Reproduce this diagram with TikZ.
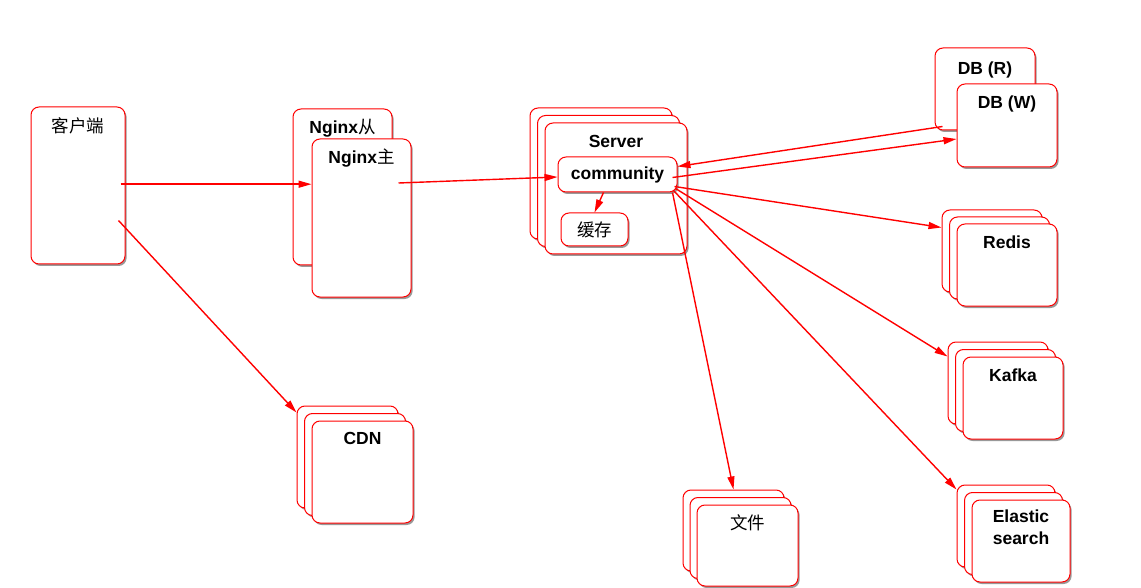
\documentclass[tikz,border=0pt]{standalone}
\usepackage{fontspec}
\setmainfont{Liberation Sans}
\newfontfamily\cjk{Noto Sans CJK SC}
\usetikzlibrary{arrows.meta,shadows,calc}
\begin{document}
\begin{tikzpicture}[x=1pt,y=-1pt,
  box/.style={draw=red, line width=1pt, rounded corners=8pt, fill=white, inner sep=0pt,
    drop shadow={shadow xshift=1.6pt, shadow yshift=-2pt, fill=black, opacity=0.4}},
  sz/.style 2 args={minimum width=#1pt, minimum height=#2pt},
  lbl/.style={font=\fontsize{17.5}{22}\selectfont\bfseries, inner sep=0pt, align=center},
  cj/.style={font=\fontsize{17.5}{20}\selectfont\cjk, inner sep=0pt},
  arr/.style={draw=red, line width=1.4pt, -{Triangle[length=13pt,width=7pt]}}]
\useasboundingbox (0,0) rectangle (1141,588);

% client
\node[box, sz={94}{157}] (client) at (78,185.5) {};
\node[cj] (client-t) at ([yshift=-19pt]client.north) {客户端};

% nginx
\node[box, sz={99}{156}] (nginxs) at (342.5,187) {};
\node[lbl] (nginxs-t) at ([yshift=-20pt]nginxs.north) {Nginx{\cjk\mdseries 从}};
\node[box, sz={99}{158}] (nginxm) at (361.5,218) {};
\node[lbl] (nginxm-t) at ([yshift=-20pt]nginxm.north) {Nginx{\cjk\mdseries 主}};

% server stack
\node[box, sz={142}{131}] (server1) at (601,173.5) {};
\node[box, sz={142}{131}] (server2) at (608.5,181) {};
\node[box, sz={142}{131}] (server) at (616,188.5) {};
\node[lbl] (server-t) at ([yshift=-19pt]server.north) {Server};
\node[box, sz={119}{35}, lbl] (community) at (617.5,174.5) {community};
\node[box, sz={67}{33}, cj] (cache) at (594.5,229.5) {缓存};

% DB
\node[box, sz={100}{82}] (dbr) at (985,89) {};
\node[lbl] (dbr-t) at ([yshift=-22pt]dbr.north) {DB (R)};
\node[box, sz={100}{83}] (dbw) at (1007,125.5) {};
\node[lbl] (dbw-t) at ([yshift=-20pt]dbw.north) {DB (W)};

% Redis
\node[box, sz={100}{82}] (redis1) at (992,251) {};
\node[box, sz={100}{82}] (redis2) at (999.5,258) {};
\node[box, sz={100}{82}] (redis) at (1007,265) {};
\node[lbl] (redis-t) at ([yshift=-19pt]redis.north) {Redis};

% Kafka
\node[box, sz={100}{82}] (kafka1) at (998,383) {};
\node[box, sz={100}{82}] (kafka2) at (1005.5,390.5) {};
\node[box, sz={100}{82}] (kafka) at (1013,398) {};
\node[lbl] (kafka-t) at ([yshift=-19pt]kafka.north) {Kafka};

% Elastic
\node[box, sz={98}{82}] (es1) at (1006,526) {};
\node[box, sz={98}{82}] (es2) at (1013.5,533.5) {};
\node[box, sz={98}{82}] (es) at (1021,541) {};
\node[lbl, anchor=north] (es-t) at ([yshift=-10pt]es.north) {Elastic\\search};

% files
\node[box, sz={101}{81}] (file1) at (733.5,530.5) {};
\node[box, sz={101}{81}] (file2) at (740.5,538) {};
\node[box, sz={101}{81}] (file) at (747.5,545.5) {};
\node[cj] (file-t) at ([yshift=-18pt]file.north) {文件};

% CDN
\node[box, sz={101}{102}] (cdn1) at (347.5,457) {};
\node[box, sz={101}{102}] (cdn2) at (355,464.5) {};
\node[box, sz={101}{102}] (cdn) at (362.5,472) {};
\node[lbl] (cdn-t) at ([yshift=-18pt]cdn.north) {CDN};

% connectors
\draw[arr] ([xshift=-5pt,yshift=1.3pt]client.east) -- ([yshift=1.3pt]client.east -| nginxm.west);
\draw[arr] ([xshift=-7pt,yshift=-35pt]client.east) -- ([yshift=-7pt]cdn1.north west);
\draw[arr] ([xshift=-13pt,yshift=35pt]nginxm.east) -- ([yshift=-2.5pt]community.west);
\draw[arr] ([xshift=-14pt]community.south) -- (cache.north);
\draw[arr] ([xshift=8pt,yshift=4pt]dbr.south west) -- ([yshift=8pt]community.east);
\draw[arr] ([xshift=-5pt,yshift=-3pt]community.east) -- ([yshift=-13.5pt]dbw.west);
\draw[arr] ([xshift=-3pt,yshift=6pt]community.south east) -- ([yshift=-18pt]redis1.north west);
\draw[arr] ([xshift=-2pt,yshift=4pt]community.south east) -- ([yshift=-15pt]kafka1.north west);
\draw[arr] ([xshift=-4pt,yshift=2pt]community.south east) -- ([yshift=-5pt]es1.north west);
\draw[arr] ([xshift=-5pt]community.south east) -- (file1.north);
\end{tikzpicture}
\end{document}
